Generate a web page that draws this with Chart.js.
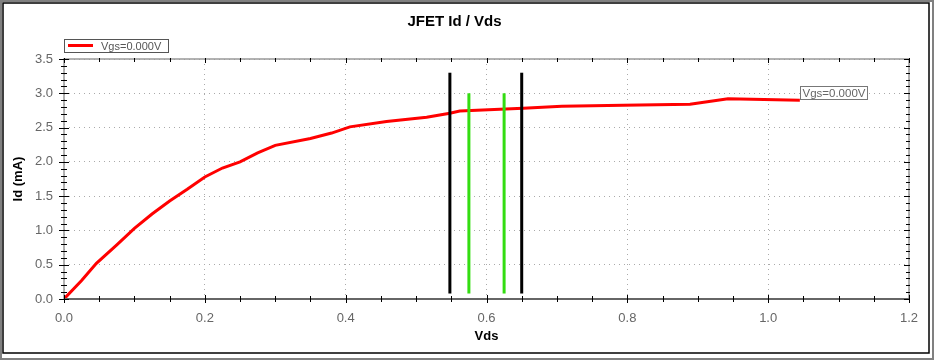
<!DOCTYPE html>
<html>
<head>
<meta charset="utf-8">
<script src="https://cdn.jsdelivr.net/npm/chart.js@4/dist/chart.umd.min.js"></script>
<style>
  html, body { margin: 0; padding: 0; background: #fff; }
  #wrap { width: 934px; height: 360px; }
</style>
</head>
<body>
<div id="wrap"><canvas id="c" width="934" height="360"></canvas></div>
<script>
// Id vs Vds curve for Vgs = 0 V
const vds = [0, 0.025, 0.046, 0.075, 0.1, 0.125, 0.15, 0.175, 0.2, 0.225, 0.25, 0.275, 0.3,
  0.35, 0.38, 0.406, 0.458, 0.515, 0.548, 0.562, 0.652, 0.707, 0.794, 0.889, 0.943, 1.045];
const idmA = [0, 0.27, 0.52, 0.79, 1.03, 1.24, 1.43, 1.6, 1.78, 1.91, 2.0, 2.13, 2.24,
  2.34, 2.42, 2.51, 2.59, 2.65, 2.71, 2.74, 2.78, 2.81, 2.825, 2.84, 2.92, 2.90];
const seriesLabel = "Vgs=0.000V";

// marker lines (Vds position, low / high Id)
const blackMarkers = [0.548, 0.650];
const greenMarkers = [0.575, 0.625];
const blackRange = [0.08, 3.3];
const greenRange = [0.08, 3.0];

const FONT = "'Liberation Sans', Arial, sans-serif";

function markerSet(xs, range, color) {
  return xs.map(x => ({
    data: [{ x: x, y: range[0] }, { x: x, y: range[1] }],
    borderColor: color,
    borderWidth: 3,
    pointRadius: 0,
    borderCapStyle: "butt",
    order: 0
  }));
}

const framePlugin = {
  id: "frame",
  beforeDraw(chart) {
    const ctx = chart.ctx;
    ctx.save();
    ctx.fillStyle = "#fff";
    ctx.fillRect(0, 0, 934, 360);
    ctx.strokeStyle = "#808080";
    ctx.lineWidth = 2;
    ctx.strokeRect(1, 1, 932, 358);
    ctx.strokeStyle = "#000";
    ctx.lineWidth = 1.5;
    ctx.strokeRect(3, 3, 926, 350);
    ctx.restore();
  },
  afterDatasetsDraw(chart) {
    const ctx = chart.ctx;
    const xs = chart.scales.x, ys = chart.scales.y;
    const a = chart.chartArea;
    ctx.save();
    // axis frame
    ctx.strokeStyle = "#999";
    ctx.lineWidth = 1.5;
    ctx.strokeRect(a.left, a.top, a.right - a.left, a.bottom - a.top);
    ctx.strokeStyle = "#666";
    ctx.lineWidth = 2;
    ctx.beginPath();
    ctx.moveTo(a.left, a.bottom); ctx.lineTo(a.right, a.bottom);
    ctx.stroke();
    // minor / major tick marks
    ctx.lineWidth = 1;
    ctx.strokeStyle = "#000";
    for (let i = 0; i <= 24; i++) {
      const v = i * 0.05;
      const px = Math.round(xs.getPixelForValue(v)) + 0.5;
      const len = i % 4 === 0 ? 4 : 3;
      ctx.beginPath();
      ctx.moveTo(px, a.bottom - len); ctx.lineTo(px, a.bottom + len);
      ctx.moveTo(px, a.top - 1); ctx.lineTo(px, a.top + len);
      ctx.stroke();
    }
    for (let i = 0; i <= 35; i++) {
      const v = i * 0.1;
      const py = Math.round(ys.getPixelForValue(v)) + 0.5;
      const len = i % 5 === 0 ? 5 : 3;
      ctx.beginPath();
      ctx.moveTo(a.left - len, py); ctx.lineTo(a.left + len, py);
      ctx.moveTo(a.right - len, py); ctx.lineTo(a.right + 1, py);
      ctx.stroke();
    }
    // legend box
    ctx.fillStyle = "#fff";
    ctx.fillRect(64.5, 39.5, 104, 13);
    ctx.strokeStyle = "#555";
    ctx.strokeRect(64.5, 39.5, 104, 13);
    ctx.fillStyle = "#ff0000";
    ctx.fillRect(68, 44, 25, 3);
    ctx.font = "11px " + FONT;
    ctx.fillStyle = "#555";
    ctx.textBaseline = "middle";
    ctx.fillText(seriesLabel, 101, 46.5);
    // end-of-curve label
    const n = vds.length - 1;
    const ex = xs.getPixelForValue(vds[n]);
    const ey = ys.getPixelForValue(idmA[n]);
    ctx.font = "11.5px " + FONT;
    const w = ctx.measureText(seriesLabel).width + 4;
    ctx.fillStyle = "#fff";
    ctx.fillRect(Math.round(ex) + 0.5, Math.round(ey) - 13.5, w, 13);
    ctx.strokeStyle = "#777";
    ctx.strokeRect(Math.round(ex) + 0.5, Math.round(ey) - 13.5, w, 13);
    ctx.fillStyle = "#666";
    ctx.fillText(seriesLabel, Math.round(ex) + 2.5, Math.round(ey) - 6.5);
    ctx.restore();
  }
};

new Chart(document.getElementById("c"), {
  type: "line",
  data: {
    datasets: [
      {
        label: seriesLabel,
        data: vds.map((v, i) => ({ x: v, y: idmA[i] })),
        borderColor: "#ff0000",
        borderWidth: 3,
        pointRadius: 0,
        tension: 0,
        order: 1
      },
      ...markerSet(blackMarkers, blackRange, "#000000"),
      ...markerSet(greenMarkers, greenRange, "#33dd11")
    ]
  },
  options: {
    responsive: false,
    animation: false,
    layout: { padding: { left: 0, right: 25, top: 0, bottom: 0 } },
    plugins: {
      legend: { display: false },
      tooltip: { enabled: false },
      title: {
        display: true,
        text: "JFET Id / Vds",
        color: "#000",
        font: { family: FONT, size: 15, weight: "bold" },
        padding: { top: 13, bottom: 28 }
      }
    },
    scales: {
      x: {
        type: "linear",
        min: 0, max: 1.2,
        ticks: {
          stepSize: 0.2,
          color: "#666",
          padding: 12,
          font: { family: FONT, size: 13 },
          callback: v => v.toFixed(1)
        },
        grid: { color: "#aaa", drawTicks: false, lineWidth: 1 },
        border: { display: false, dash: [1, 4] },
        title: {
          display: true, text: "Vds", color: "#000",
          font: { family: FONT, size: 13, weight: "bold" },
          padding: { top: 4, bottom: 16 }
        },
        afterFit(scale) { scale.height = 61; }
      },
      y: {
        min: 0, max: 3.5,
        ticks: {
          stepSize: 0.5,
          color: "#666",
          padding: 11,
          font: { family: FONT, size: 13 },
          callback: v => v.toFixed(1)
        },
        grid: { color: "#aaa", drawTicks: false, lineWidth: 1 },
        border: { display: false, dash: [1, 4] },
        title: {
          display: true, text: "Id (mA)", color: "#000",
          font: { family: FONT, size: 13, weight: "bold" },
          padding: { top: 11, bottom: 4 }
        },
        afterFit(scale) { scale.width = 64; }
      }
    }
  },
  plugins: [framePlugin]
});
</script>
</body>
</html>
